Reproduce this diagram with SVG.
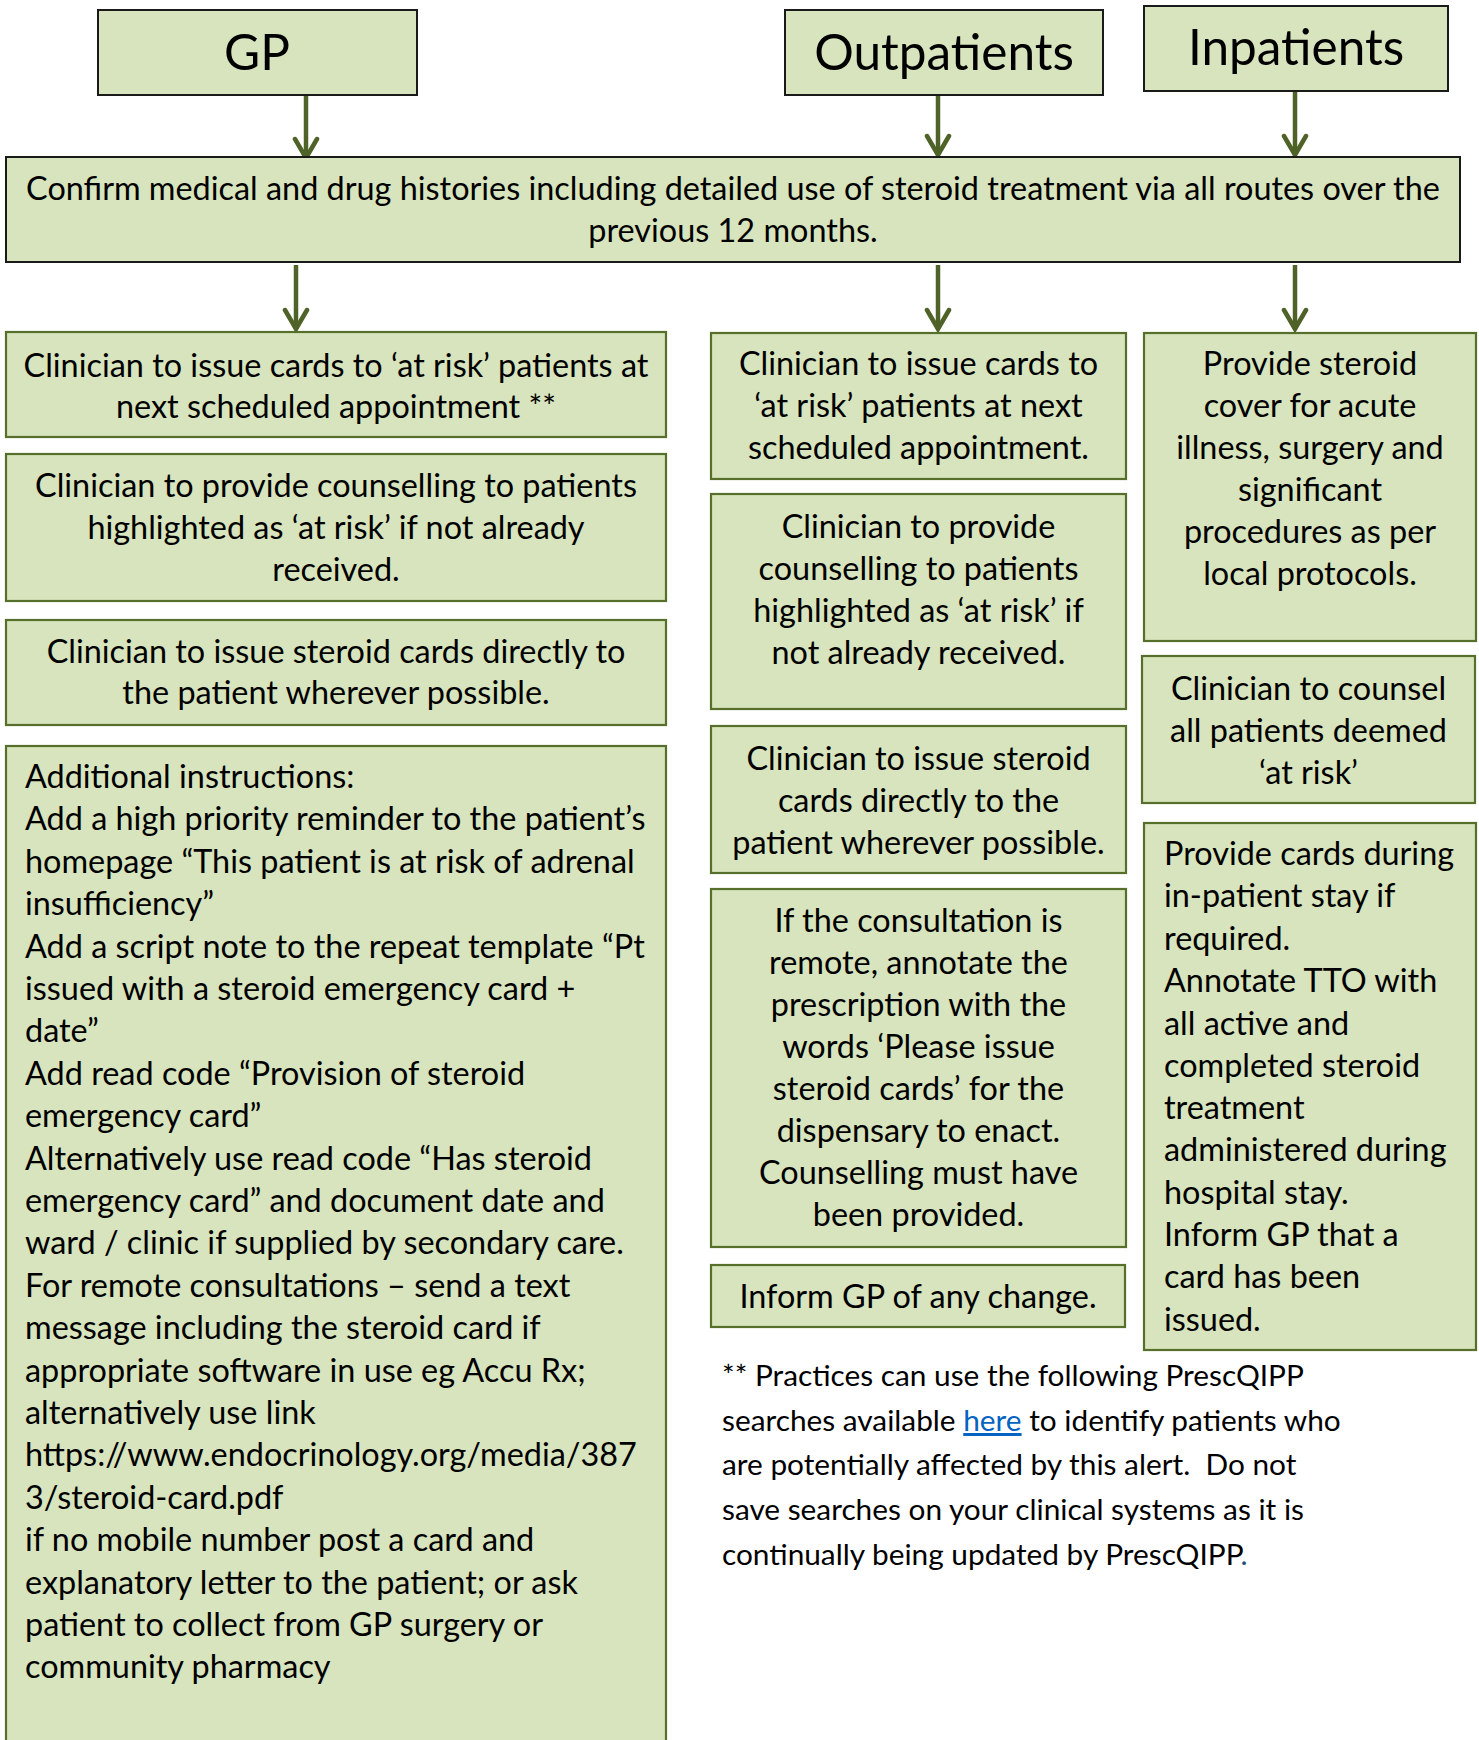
<svg xmlns="http://www.w3.org/2000/svg" width="1479" height="1740" viewBox="0 0 1479 1740">
<style>
.hb{fill:#D7E4BD;stroke:#1a1a1a;stroke-width:2}
.b{fill:#D7E4BD;stroke:#56702B;stroke-width:2.2}
.t{font-family:Lato,"Open Sans",sans-serif;font-size:32.4px;fill:#000}
.c{text-anchor:middle}
.h{font-size:49.5px}
.fn{font-size:29.8px}
.ar{stroke:#4F6228;stroke-width:4.5;fill:none;marker-end:url(#ah)}
</style>
<defs>
<marker id="ah" markerUnits="userSpaceOnUse" viewBox="-26 -16 30 32" refX="0" refY="0" markerWidth="30" markerHeight="32" orient="auto">
<path d="M-19,-11 L0,0 L-19,11" fill="none" stroke="#4F6228" stroke-width="4.5" stroke-linecap="round" stroke-linejoin="miter"/>
</marker>
</defs>
<rect width="1479" height="1740" fill="#fff"/>
<g id="connectors">
<line class="ar" x1="306" y1="95" x2="306" y2="158"/>
<line class="ar" x1="938" y1="95" x2="938" y2="155"/>
<line class="ar" x1="1295" y1="91" x2="1295" y2="155"/>
<line class="ar" x1="296" y1="265" x2="296" y2="329"/>
<line class="ar" x1="938" y1="265" x2="938" y2="329"/>
<line class="ar" x1="1295" y1="265" x2="1295" y2="329"/>
</g>
<g id="gp">
<rect class="hb" x="98" y="10" width="319" height="85"/>
<text class="t c h" x="257" y="70">GP</text>
</g>
<g id="outpatients">
<rect class="hb" x="785" y="10" width="318" height="85"/>
<text class="t c h" x="944" y="70">Outpatients</text>
</g>
<g id="inpatients">
<rect class="hb" x="1144" y="6" width="304" height="85"/>
<text class="t c h" x="1296" y="65">Inpatients</text>
</g>
<g id="confirm">
<rect class="hb" x="6" y="157" width="1454" height="105"/>
<text class="t c" x="733"><tspan x="733" y="200">Confirm medical and drug histories including detailed use of steroid treatment via all routes over the</tspan><tspan x="733" y="242">previous 12 months.</tspan></text>
</g>
<g id="gp-issue">
<rect class="b" x="6" y="332" width="660" height="105"/>
<text class="t c"><tspan x="336" y="377">Clinician to issue cards to ‘at risk’ patients at</tspan><tspan x="336" y="418">next scheduled appointment **</tspan></text>
</g>
<g id="gp-counsel">
<rect class="b" x="6" y="454" width="660" height="147"/>
<text class="t c"><tspan x="336" y="497">Clinician to provide counselling to patients</tspan><tspan x="336" y="539">highlighted as ‘at risk’ if not already</tspan><tspan x="336" y="581">received.</tspan></text>
</g>
<g id="gp-direct">
<rect class="b" x="6" y="620" width="660" height="105"/>
<text class="t c"><tspan x="336" y="663">Clinician to issue steroid cards directly to</tspan><tspan x="336" y="704">the patient wherever possible.</tspan></text>
</g>
<g id="gp-additional">
<rect class="b" x="6" y="746" width="660" height="1010"/>
<text class="t"><tspan x="25" y="788">Additional instructions:</tspan><tspan x="25" y="830.4">Add a high priority reminder to the patient’s</tspan><tspan x="25" y="872.8">homepage “This patient is at risk of adrenal</tspan><tspan x="25" y="915.2">insufficiency”</tspan><tspan x="25" y="957.6">Add a script note to the repeat template “Pt</tspan><tspan x="25" y="1000">issued with a steroid emergency card +</tspan><tspan x="25" y="1042.4">date”</tspan><tspan x="25" y="1084.8">Add read code “Provision of steroid</tspan><tspan x="25" y="1127.2">emergency card”</tspan><tspan x="25" y="1169.6">Alternatively use read code “Has steroid</tspan><tspan x="25" y="1212">emergency card” and document date and</tspan><tspan x="25" y="1254.4">ward / clinic if supplied by secondary care.</tspan><tspan x="25" y="1296.8">For remote consultations – send a text</tspan><tspan x="25" y="1339.2">message including the steroid card if</tspan><tspan x="25" y="1381.6">appropriate software in use eg Accu Rx;</tspan><tspan x="25" y="1424">alternatively use link</tspan><tspan x="25" y="1466.4">https://www.endocrinology.org/media/387</tspan><tspan x="25" y="1508.8">3/steroid-card.pdf</tspan><tspan x="25" y="1551.2">if no mobile number post a card and</tspan><tspan x="25" y="1593.6">explanatory letter to the patient; or ask</tspan><tspan x="25" y="1636">patient to collect from GP surgery or</tspan><tspan x="25" y="1678.4">community pharmacy</tspan></text>
</g>
<g id="op-issue">
<rect class="b" x="711" y="333" width="415" height="146"/>
<text class="t c"><tspan x="918.5" y="375">Clinician to issue cards to</tspan><tspan x="918.5" y="417">‘at risk’ patients at next</tspan><tspan x="918.5" y="459">scheduled appointment.</tspan></text>
</g>
<g id="op-counsel">
<rect class="b" x="711" y="494" width="415" height="215"/>
<text class="t c"><tspan x="918.5" y="538">Clinician to provide</tspan><tspan x="918.5" y="580">counselling to patients</tspan><tspan x="918.5" y="622">highlighted as ‘at risk’ if</tspan><tspan x="918.5" y="664">not already received.</tspan></text>
</g>
<g id="op-direct">
<rect class="b" x="711" y="726" width="415" height="147"/>
<text class="t c"><tspan x="918.5" y="770">Clinician to issue steroid</tspan><tspan x="918.5" y="812">cards directly to the</tspan><tspan x="918.5" y="854">patient wherever possible.</tspan></text>
</g>
<g id="op-remote">
<rect class="b" x="711" y="889" width="415" height="358"/>
<text class="t c"><tspan x="918.5" y="932">If the consultation is</tspan><tspan x="918.5" y="974">remote, annotate the</tspan><tspan x="918.5" y="1016">prescription with the</tspan><tspan x="918.5" y="1058">words ‘Please issue</tspan><tspan x="918.5" y="1100">steroid cards’ for the</tspan><tspan x="918.5" y="1142">dispensary to enact.</tspan><tspan x="918.5" y="1184">Counselling must have</tspan><tspan x="918.5" y="1226">been provided.</tspan></text>
</g>
<g id="op-inform">
<rect class="b" x="711" y="1265" width="414" height="62"/>
<text class="t c" x="918" y="1308">Inform GP of any change.</text>
</g>
<g id="ip-cover">
<rect class="b" x="1144" y="333" width="332" height="308"/>
<text class="t c"><tspan x="1310" y="375">Provide steroid</tspan><tspan x="1310" y="417">cover for acute</tspan><tspan x="1310" y="459">illness, surgery and</tspan><tspan x="1310" y="501">significant</tspan><tspan x="1310" y="543">procedures as per</tspan><tspan x="1310" y="585">local protocols.</tspan></text>
</g>
<g id="ip-counsel">
<rect class="b" x="1142" y="656" width="333" height="147"/>
<text class="t c"><tspan x="1308.5" y="700">Clinician to counsel</tspan><tspan x="1308.5" y="742">all patients deemed</tspan><tspan x="1308.5" y="784">‘at risk’</tspan></text>
</g>
<g id="ip-cards">
<rect class="b" x="1144" y="823" width="332" height="527"/>
<text class="t"><tspan x="1164" y="865">Provide cards during</tspan><tspan x="1164" y="907">in-patient stay if</tspan><tspan x="1164" y="950">required.</tspan><tspan x="1164" y="992">Annotate TTO with</tspan><tspan x="1164" y="1035">all active and</tspan><tspan x="1164" y="1077">completed steroid</tspan><tspan x="1164" y="1119">treatment</tspan><tspan x="1164" y="1161">administered during</tspan><tspan x="1164" y="1204">hospital stay.</tspan><tspan x="1164" y="1246">Inform GP that a</tspan><tspan x="1164" y="1288">card has been</tspan><tspan x="1164" y="1331">issued.</tspan></text>
</g>
<g id="footnote">
<text class="t fn" style="white-space:pre"><tspan x="722" y="1386">** Practices can use the following PrescQIPP</tspan><tspan x="722" y="1431">searches available <tspan fill="#0563C1" text-decoration="underline">here</tspan> to identify patients who</tspan><tspan x="722" y="1475">are potentially affected by this alert.  Do not</tspan><tspan x="722" y="1520">save searches on your clinical systems as it is</tspan><tspan x="722" y="1565">continually being updated by PrescQIPP<tspan fill="#1F4E79">.</tspan></tspan></text>
</g>
</svg>
